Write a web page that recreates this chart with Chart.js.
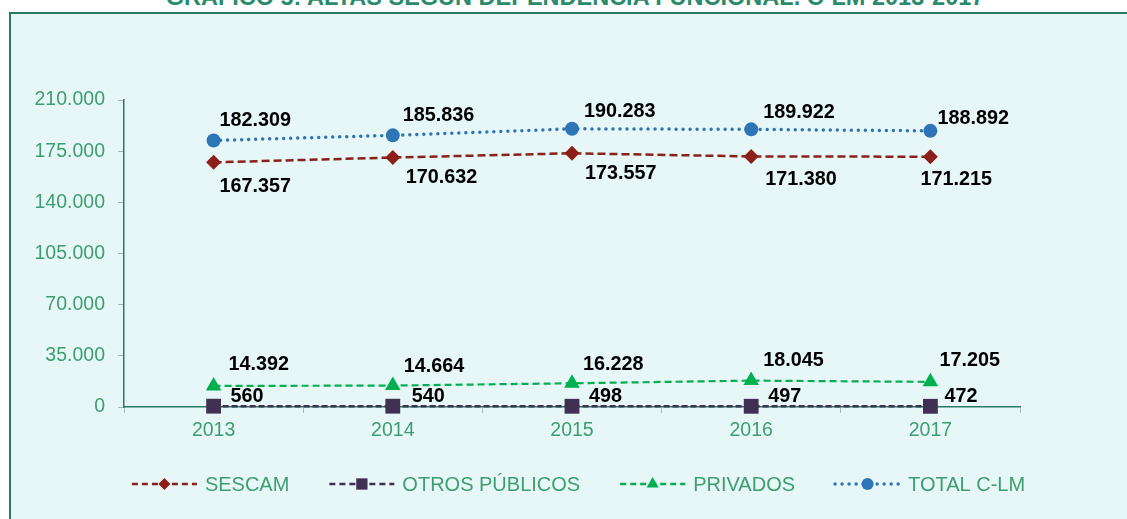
<!DOCTYPE html>
<html>
<head>
<meta charset="utf-8">
<script src="https://cdn.jsdelivr.net/npm/chart.js"></script>
<style>
  html, body { margin: 0; padding: 0; background: #ffffff; overflow: hidden; width: 1127px; height: 519px; }
  #titulo {
    position: absolute; left: 0; width: 1150px; top: -16px; text-align: center;
    font: bold 23.5px "Liberation Sans", Arial, sans-serif; color: #2b8a6b; white-space: nowrap;
  }
  #caja {
    position: absolute; left: 9px; top: 12px; width: 1137px; height: 520px;
    border: 2px solid #2a7a63; background: #e7f7f7;
  }
  #grafico { position: absolute; left: 0; top: 0; }
</style>
</head>
<body>
<div id="titulo">GRÁFICO 5: ALTAS SEGÚN DEPENDENCIA FUNCIONAL. C-LM 2013-2017</div>
<div id="caja"><canvas id="grafico" width="1135" height="505"></canvas></div>
<script>
//-------------
//- DATOS -
//-------------
var anios = ['2013', '2014', '2015', '2016', '2017'];
var sescam = [167357, 170632, 173557, 171380, 171215];
var otrosPublicos = [560, 540, 498, 497, 472];
var privados = [14392, 14664, 16228, 18045, 17205];
var totalClm = [182309, 185836, 190283, 189922, 188892];
var ticksY = [0, 35000, 70000, 105000, 140000, 175000, 210000];

//PARAMETRIZACION DE COLORES
var verdeTexto = '#3d9f6f';
var ejeColor = '#2a7a63';
var fuente = '"Liberation Sans", Arial, sans-serif';

// formato 182.309
function formato(v) {
     return String(Math.round(v)).replace(/\B(?=(\d{3})+(?!\d))/g, '.');
}

// desplazamiento de las etiquetas de cada serie (dx, dy)
var etiquetas = {
     'SESCAM': [[6, 24], [13, 20], [13, 20], [14, 23], [-10, 23]],
     'OTROS PÚBLICOS': [[17, -10], [19, -10], [17, -10], [17, -10], [14, -10]],
     'PRIVADOS': [[15, -21], [11, -19], [11, -19], [12, -20], [9, -21]],
     'TOTAL C-LM': [[6, -20], [10, -20], [12, -17], [12, -17], [7, -12]]
};

function marcador(ctx, tipo, x, y, r, color) {
     ctx.save();
     ctx.fillStyle = color;
     ctx.setLineDash([]);
     ctx.beginPath();
     if (tipo == 'circle') {
          ctx.arc(x, y, r, 0, Math.PI * 2);
     } else if (tipo == 'rectRot') {
          ctx.moveTo(x - r, y); ctx.lineTo(x, y - r); ctx.lineTo(x + r, y); ctx.lineTo(x, y + r);
     } else if (tipo == 'rect') {
          var s = r * Math.SQRT1_2;
          ctx.rect(x - s, y - s, 2 * s, 2 * s);
     } else if (tipo == 'triangle') {
          var a = Math.PI * 2 / 3;
          ctx.moveTo(x, y - r);
          ctx.lineTo(x + Math.sin(a) * r, y - Math.cos(a) * r);
          ctx.lineTo(x - Math.sin(a) * r, y - Math.cos(a) * r);
     }
     ctx.closePath();
     ctx.fill();
     ctx.restore();
}

// etiquetas de datos
var pluginEtiquetas = {
     id: 'etiquetas',
     afterDatasetsDraw: function(chart) {
          var ctx = chart.ctx;
          ctx.save();
          ctx.font = 'bold 19.8px ' + fuente;
          ctx.fillStyle = '#000000';
          ctx.textAlign = 'left';
          ctx.textBaseline = 'middle';
          chart.data.datasets.forEach(function(ds, i) {
               var meta = chart.getDatasetMeta(i);
               var off = etiquetas[ds.label];
               meta.data.forEach(function(p, j) {
                    ctx.fillText(formato(ds.data[j]), p.x + off[j][0], p.y + off[j][1]);
               });
          });
          ctx.restore();
     }
};

// leyenda con linea y marcador
var pluginLeyenda = {
     id: 'leyenda',
     afterDraw: function(chart) {
          var ctx = chart.ctx;
          var largo = 65, hueco = 8, sep = 40;
          ctx.save();
          ctx.font = '20px ' + fuente;
          var total = 0;
          chart.data.datasets.forEach(function(ds, i) {
               total += largo + hueco + ctx.measureText(ds.label).width + (i > 0 ? sep : 0);
          });
          var x = chart.width / 2 - total / 2;
          var y = 470;
          chart.data.datasets.forEach(function(ds) {
               ctx.save();
               ctx.strokeStyle = ds.borderColor;
               ctx.lineWidth = ds.legendWidth;
               ctx.lineCap = ds.borderCapStyle || 'butt';
               ctx.setLineDash(ds.legendDash);
               ctx.beginPath();
               ctx.moveTo(x, y);
               ctx.lineTo(x + largo, y);
               ctx.stroke();
               ctx.restore();
               marcador(ctx, ds.pointStyle, x + largo / 2, y, ds.legendRadius, ds.borderColor);
               ctx.fillStyle = verdeTexto;
               ctx.textAlign = 'left';
               ctx.textBaseline = 'middle';
               ctx.fillText(ds.label, x + largo + hueco, y + 1);
               x += largo + hueco + ctx.measureText(ds.label).width + sep;
          });
          ctx.restore();
     }
};

var ctx = document.getElementById('grafico').getContext('2d');
var grafico = new Chart(ctx, {
     type: 'line',
     data: {
          labels: anios,
          datasets: [
               {
                    label: 'SESCAM', data: sescam, clip: false,
                    borderColor: '#8c1f1a', backgroundColor: '#8c1f1a',
                    borderWidth: 2.5, borderDash: [8, 4],
                    pointStyle: 'rectRot', pointRadius: 7.5, pointBorderWidth: 0,
                    legendDash: [6, 4], legendWidth: 2.5, legendRadius: 6
               },
               {
                    label: 'OTROS PÚBLICOS', data: otrosPublicos, clip: false,
                    borderColor: '#403152', backgroundColor: '#403152',
                    borderWidth: 2.5, borderDash: [6, 3],
                    pointStyle: 'rect', pointRadius: 10.5, pointBorderWidth: 0,
                    legendDash: [6, 4], legendWidth: 2.5, legendRadius: 8
               },
               {
                    label: 'PRIVADOS', data: privados, clip: false,
                    borderColor: '#00b050', backgroundColor: '#00b050',
                    borderWidth: 2.2, borderDash: [7, 4],
                    pointStyle: 'triangle', pointRadius: 9, pointBorderWidth: 0,
                    legendDash: [6, 4], legendWidth: 2.5, legendRadius: 7
               },
               {
                    label: 'TOTAL C-LM', data: totalClm, clip: false,
                    borderColor: '#2e75b6', backgroundColor: '#2e75b6',
                    borderWidth: 3.5, borderDash: [0.01, 7], borderCapStyle: 'round',
                    pointStyle: 'circle', pointRadius: 7, pointBorderWidth: 0,
                    legendDash: [0.01, 7], legendWidth: 3.5, legendRadius: 6
               }
          ]
     },
     options: {
          responsive: false,
          animation: false,
          devicePixelRatio: 1,
          layout: { padding: { top: 86, right: 126, left: 0, bottom: 72 } },
          plugins: {
               legend: { display: false },
               tooltip: { enabled: false },
               title: { display: false }
          },
          scales: {
               x: {
                    offset: true,
                    afterFit: function(s) { s.height = 40; },
                    grid: { offset: true, drawOnChartArea: false, drawTicks: true, tickLength: 6, color: '#9fbcb3' },
                    border: { color: ejeColor, width: 1.5 },
                    ticks: { color: verdeTexto, padding: 6, font: { family: fuente, size: 19.5 } }
               },
               y: {
                    min: 0, max: 210000,
                    afterFit: function(s) { s.width = 113; },
                    afterBuildTicks: function(s) { s.ticks = ticksY.map(function(v) { return { value: v }; }); },
                    grid: { drawOnChartArea: false, drawTicks: true, tickLength: 6, color: '#9fbcb3' },
                    border: { color: ejeColor, width: 1.5 },
                    ticks: {
                         color: verdeTexto, padding: 13,
                         font: { family: fuente, size: 19.5 },
                         callback: function(v) { return formato(v); }
                    }
               }
          }
     },
     plugins: [pluginEtiquetas, pluginLeyenda]
});
</script>
</body>
</html>
